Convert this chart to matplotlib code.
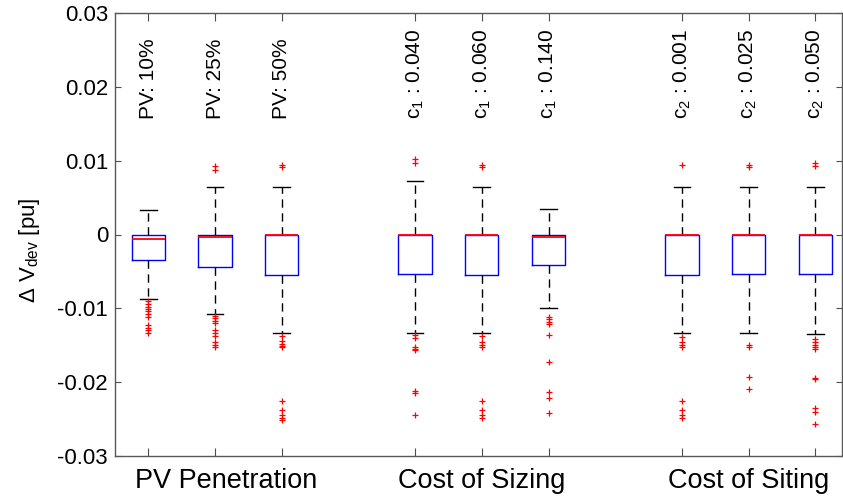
import matplotlib
matplotlib.use("Agg")
import matplotlib.pyplot as plt
import matplotlib.transforms as mtransforms

plt.rcParams['font.family'] = ['Liberation Sans', 'DejaVu Sans']
plt.rcParams['mathtext.fontset'] = 'custom'
plt.rcParams['mathtext.rm'] = 'Liberation Sans'

# box positions and labels
positions = [1, 2, 3, 5, 6, 7, 9, 10, 11]
top_labels = ['PV: 10%', 'PV: 25%', 'PV: 50%',
              r'c$_\mathregular{1}$ : 0.040', r'c$_\mathregular{1}$ : 0.060', r'c$_\mathregular{1}$ : 0.140',
              r'c$_\mathregular{2}$ : 0.001', r'c$_\mathregular{2}$ : 0.025', r'c$_\mathregular{2}$ : 0.050']
xtick_labels = ['', 'PV Penetration', '', '', 'Cost of Sizing', '', '', 'Cost of Siting', '']

# box statistics
whishi = [0.0033, 0.0065, 0.0065, 0.0073, 0.0065, 0.0034, 0.0065, 0.0064, 0.0065]
q3 = [0.0, 0.0, 0.0, 0.0, 0.0, 0.0, 0.0, 0.0, 0.0]
med = [-0.0006, -0.0003, 0.0, 0.0, 0.0, -0.0004, 0.0, 0.0, 0.0]
q1 = [-0.0035, -0.0044, -0.0055, -0.0054, -0.0055, -0.0041, -0.0055, -0.0054, -0.0054]
whislo = [-0.0087, -0.0107, -0.0134, -0.0134, -0.0134, -0.0100, -0.0134, -0.0134, -0.0135]
fliers = [
    [-0.0090, -0.0094, -0.0098, -0.0101, -0.0104, -0.0108, -0.0112, -0.0122, -0.0126, -0.0130, -0.0133],
    [0.0093, 0.0088, -0.0110, -0.0113, -0.0117, -0.0120, -0.0130, -0.0134, -0.0137, -0.0145, -0.0149, -0.0152],
    [0.0094, 0.0092, -0.0138, -0.0144, -0.0148, -0.0151, -0.0153, -0.0226, -0.0238, -0.0245, -0.0248, -0.0251],
    [0.0102, 0.0097, -0.0136, -0.0140, -0.0152, -0.0155, -0.0157, -0.0212, -0.0215, -0.0244],
    [0.0094, 0.0092, -0.0138, -0.0145, -0.0150, -0.0153, -0.0226, -0.0238, -0.0245, -0.0249],
    [-0.0112, -0.0115, -0.0118, -0.0121, -0.0136, -0.0173, -0.0213, -0.0221, -0.0242],
    [0.0094, -0.0139, -0.0145, -0.0150, -0.0153, -0.0226, -0.0238, -0.0245, -0.0249],
    [0.0094, 0.0092, -0.0150, -0.0153, -0.0193, -0.0209],
    [0.0097, 0.0093, -0.0141, -0.0146, -0.0150, -0.0153, -0.0155, -0.0194, -0.0196, -0.0235, -0.0240, -0.0257],
]
yticks = [-0.03, -0.02, -0.01, 0, 0.01, 0.02, 0.03]
ytick_labels = ['-0.03', '-0.02', '-0.01', '0', '0.01', '0.02', '0.03']


def main():
    fig = plt.figure(figsize=(8.43, 5), dpi=100)
    ax = fig.add_axes([0.1364, 0.088, 0.8624, 0.886])

    stats = []
    for i in range(len(positions)):
        stats.append({'med': med[i], 'q1': q1[i], 'q3': q3[i],
                      'whislo': whislo[i], 'whishi': whishi[i],
                      'fliers': fliers[i]})

    ax.bxp(stats, positions=positions, widths=0.5, capwidths=0.25,
           boxprops=dict(color='blue', linewidth=1.0),
           medianprops=dict(color='red', linewidth=1.3, zorder=3),
           whiskerprops=dict(color='black', linewidth=1.0, linestyle=(0, (6, 4))),
           capprops=dict(color='black', linewidth=1.0),
           flierprops=dict(marker='+', markeredgecolor='red', markersize=5,
                           markeredgewidth=0.9, linestyle='none'))

    for p, lab in zip(positions, top_labels):
        ax.text(p, 0.01565, lab, rotation=90, ha='center', va='bottom', fontsize=15)

    ax.set_xlim(0.5, 11.4)
    ax.set_ylim(-0.03, 0.03)
    ax.set_xticks(positions)
    ax.set_xticklabels(xtick_labels, fontsize=19.5)
    ax.tick_params(axis='x', direction='in', length=5.5, top=True, pad=9, color='0.3')
    ax.set_yticks(yticks)
    ax.set_yticklabels(ytick_labels, fontsize=16)
    ax.tick_params(axis='y', direction='in', length=4, right=True, pad=5, color='0.3')

    # first group label sits a bit right of its tick in the original
    lab = ax.get_xticklabels()[1]
    lab.set_transform(lab.get_transform() + mtransforms.ScaledTranslation(0.11, 0, fig.dpi_scale_trans))

    for s in ax.spines.values():
        s.set_color('0.35')
        s.set_linewidth(1.0)

    ax.set_ylabel(u'\u0394 V$_\\mathregular{dev}$ [pu]', fontsize=16)
    ax.yaxis.set_label_coords(-0.10, 0.465)

    plt.savefig("out.png", dpi=100)


if __name__ == "__main__":
    main()
